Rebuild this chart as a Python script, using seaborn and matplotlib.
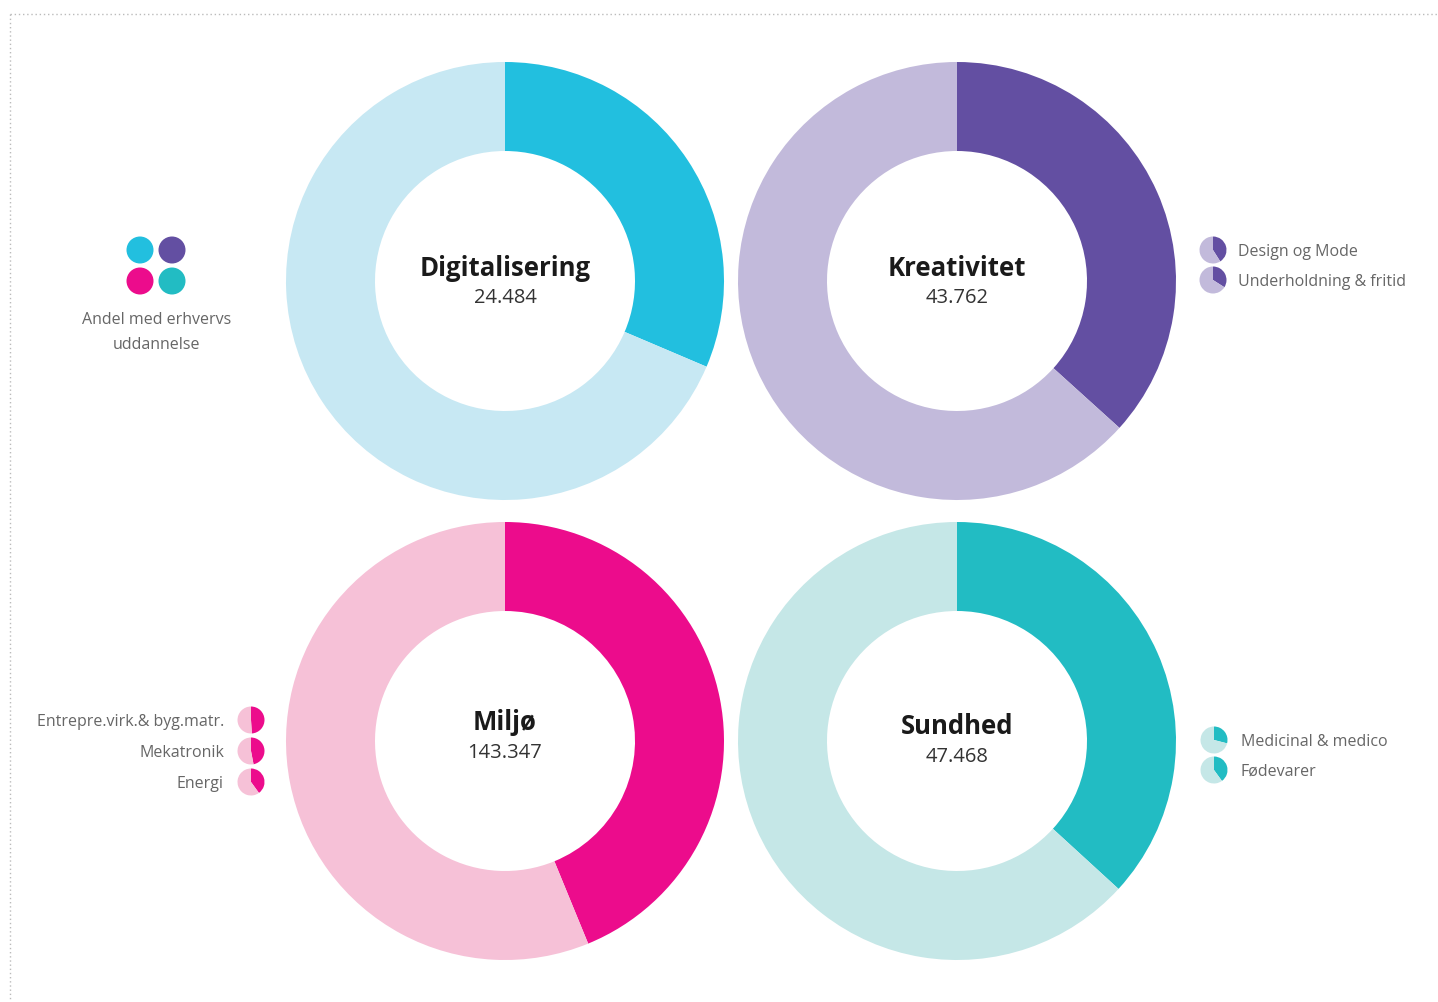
import matplotlib
matplotlib.use("Agg")
import matplotlib.pyplot as plt
import seaborn as sns

sns.set_theme(style="white")
plt.rcParams['font.family'] = ['Open Sans', 'DejaVu Sans']

# data
sectors = ["Digitalisering", "Kreativitet", "Miljø", "Sundhed"]
totals = ["24.484", "43.762", "143.347", "47.468"]
edu_share = [0.314, 0.367, 0.438, 0.368]
dark_colors = ["#22BFDF", "#634FA2", "#EC0C8C", "#22BCC3"]
light_colors = ["#C7E8F3", "#C2BADB", "#F6C1D7", "#C5E7E7"]

krea_labels = ["Design og Mode", "Underholdning & fritid"]
krea_share = [0.41, 0.34]
miljo_labels = ["Entrepre.virk.& byg.matr.", "Mekatronik", "Energi"]
miljo_share = [0.49, 0.47, 0.40]
sund_labels = ["Medicinal & medico", "Fødevarer"]
sund_share = [0.29, 0.40]

W, H = 1438, 1003
fig = plt.figure(figsize=(W / 100, H / 100), dpi=100)
ax = fig.add_axes([0, 0, 1, 1])
ax.set_xlim(0, W)
ax.set_ylim(0, H)
ax.set_aspect("equal")
ax.axis("off")


def Y(y):
    return H - y


# big donuts
centers = [(505, 282), (957, 282), (505, 742), (957, 742)]
text_y = [(268, 298), (268, 298), (723, 753), (727, 757)]
R = 219
for i, name in enumerate(sectors):
    cx, cy = centers[i]
    ax.pie([edu_share[i], 1 - edu_share[i]], center=(cx, Y(cy)), radius=R,
           startangle=90, counterclock=False,
           colors=[dark_colors[i], light_colors[i]],
           wedgeprops=dict(width=R - 130, linewidth=0), frame=True)
    ax.text(cx, Y(text_y[i][0]), name, ha="center", va="center",
            fontsize=18.5, fontweight="bold", color="#1a1a1a")
    ax.text(cx, Y(text_y[i][1]), totals[i], ha="center", va="center",
            fontsize=14.5, color="#333333")


def small_pie(x, y, share, i):
    ax.pie([share, 1 - share], center=(x, Y(y)), radius=13.5,
           startangle=90, counterclock=False,
           colors=[dark_colors[i], light_colors[i]],
           wedgeprops=dict(linewidth=0), frame=True)


grey = "#666666"
fs = 11.5
for j, (lab, s) in enumerate(zip(krea_labels, krea_share)):
    y = 251 + 30 * j
    small_pie(1213, y, s, 1)
    ax.text(1238, Y(y + 1), lab, ha="left", va="center", fontsize=fs, color=grey)

for j, (lab, s) in enumerate(zip(miljo_labels, miljo_share)):
    y = 721 + 31 * j
    small_pie(251, y, s, 2)
    ax.text(224, Y(y + 1), lab, ha="right", va="center", fontsize=fs, color=grey)

for j, (lab, s) in enumerate(zip(sund_labels, sund_share)):
    y = 741 + 30 * j
    small_pie(1214, y, s, 3)
    ax.text(1241, Y(y + 1), lab, ha="left", va="center", fontsize=fs, color=grey)

# key: four dots
dots = [(140, 251), (172, 251), (140, 282), (172, 282)]
for (x, y), c in zip(dots, dark_colors):
    ax.add_patch(plt.Circle((x, Y(y)), 13.5, color=c, lw=0))
ax.text(157, Y(320), "Andel med erhvervs", ha="center", va="center",
        fontsize=fs, color=grey)
ax.text(157, Y(345), "uddannelse", ha="center", va="center",
        fontsize=fs, color=grey)

# dotted frame
ax.plot([10, W], [Y(15), Y(15)], ls=(0, (1, 2)), color="#BBBBBB", lw=1)
ax.plot([10, 10], [Y(15), 0], ls=(0, (1, 2)), color="#BBBBBB", lw=1)

ax.set_xlim(0, W)
ax.set_ylim(0, H)
ax.axis("off")

fig.savefig("out.png", dpi=100, facecolor="white")
